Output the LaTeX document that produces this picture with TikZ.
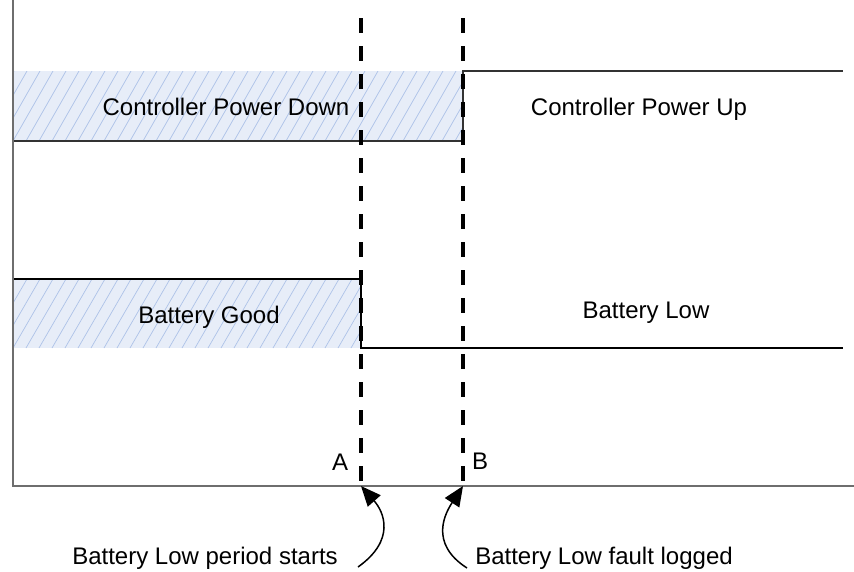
\documentclass[tikz,border=0pt]{standalone}
\usepackage{fontspec}
\setmainfont{Liberation Sans}
\usetikzlibrary{arrows.meta}
\definecolor{bandfill}{HTML}{E7EDF8}
\definecolor{hatchc}{HTML}{ADC2E8}
\definecolor{axisc}{HTML}{6E6E6E}
\tikzset{
  lbl/.style={font=\fontsize{24}{28}\selectfont, text=black, inner sep=0pt, anchor=base},
  axisline/.style={draw=axisc, line width=1.8pt},
  level/.style={draw=black, line width=1.5pt},
  marker/.style={draw=black, line width=4pt, dash pattern=on 15pt off 13pt},
  hatchline/.style={draw=hatchc, line width=0.7pt},
  pointer/.style={draw=black, line width=1.5pt, -{Triangle[length=20pt,width=17pt]}},
}
\begin{document}
\begin{tikzpicture}[x=1pt,y=-1pt]
\useasboundingbox (0,0) rectangle (854,571);
% hatched bands
\fill[bandfill] (13,71) rectangle (463,141);
\fill[bandfill] (13,279) rectangle (361,348);
\begin{scope}
  \clip (13,71) rectangle (463,141);
  \foreach \i in {-6,...,36} \draw[hatchline] (13+\i*13,141) -- ++(40,-70);
\end{scope}
\begin{scope}
  \clip (13,279) rectangle (361,348);
  \foreach \i in {-6,...,28} \draw[hatchline] (13+\i*13,348) -- ++(40,-69);
\end{scope}
% level lines
\draw[level, draw=black!80] (13,141) -- (463,141) -- (463,71) -- (843,71);
\draw[level] (13,279) -- (361,279) -- (361,348) -- (843,348);
% axes
\coordinate (origin) at (13,486);
\coordinate (ytop) at (13,0);
\coordinate (xend) at (854,486);
\draw[axisline] (ytop) -- (origin) -- (xend);
% markers
\coordinate (Atop) at (361,18);
\coordinate (Abot) at (361,486);
\coordinate (Btop) at (463,18);
\coordinate (Bbot) at (463,486);
\draw[marker] (Atop) -- (Abot);
\draw[marker] (Btop) -- (Bbot);
% labels
\node[lbl] (cpd) at (226,115) {Controller Power Down};
\node[lbl] (cpu) at (639,115) {Controller Power Up};
\node[lbl] (bg) at (209,323) {Battery Good};
\node[lbl] (bl) at (646,318) {Battery Low};
\node[lbl] (la) at (340,470) {A};
\node[lbl] (lb) at (480,469) {B};
\node[lbl] (ta) at (205,564) {Battery Low period starts};
\node[lbl] (tb) at (604,564) {Battery Low fault logged};
% pointers
\coordinate (pa) at (358,567);
\coordinate (pb) at (467,568);
\draw[pointer] (pa) .. controls (396,540) and (384,512) .. (Abot);
\draw[pointer] (pb) .. controls (428,543) and (446,512) .. (Bbot);
\end{tikzpicture}
\end{document}
